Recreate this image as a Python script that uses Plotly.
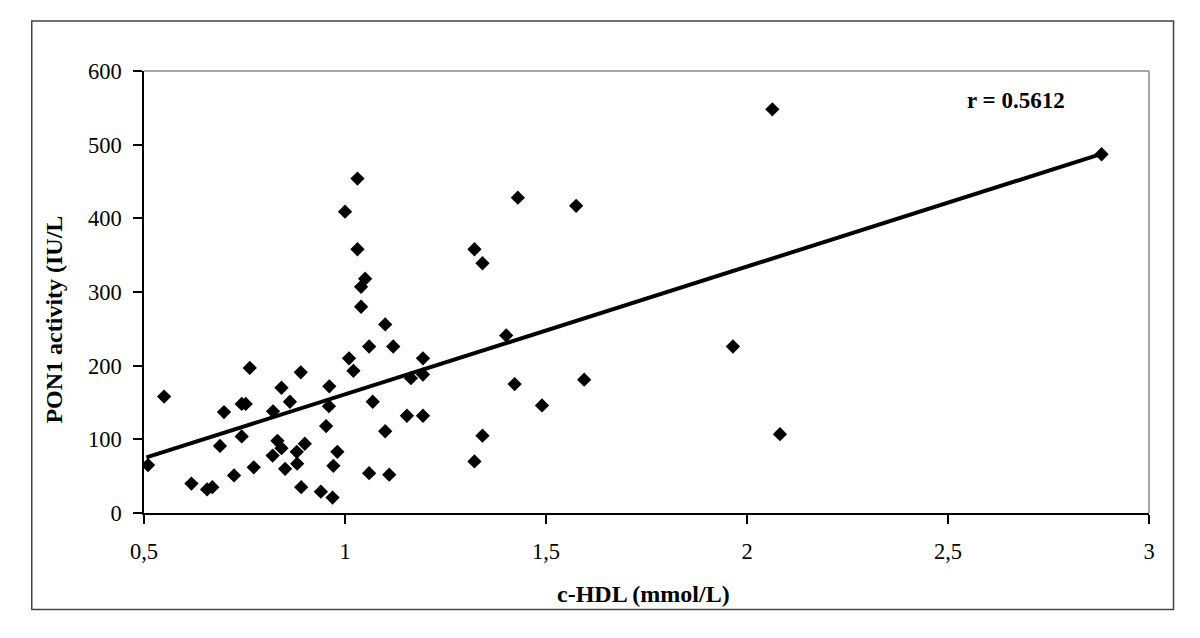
import plotly.graph_objects as go

# c-HDL (mmol/L) and PON1 activity (IU/L)
hdl = [0.51, 0.55, 0.618, 0.657, 0.670, 0.689, 0.699, 0.724, 0.743, 0.753,
       0.743, 0.763, 0.773, 0.821, 0.820, 0.832, 0.842, 0.842, 0.863, 0.851,
       0.890, 0.880, 0.900, 0.881, 0.891, 0.940, 0.969, 0.961, 0.960, 0.953,
       0.981, 0.971, 1.010, 1.021, 1.031, 1.000, 1.031, 1.050, 1.040, 1.040,
       1.100, 1.060, 1.120, 1.194, 1.164, 1.194, 1.069, 1.154, 1.194, 1.100,
       1.060, 1.110, 1.430, 1.575, 1.322, 1.342, 1.401, 1.422, 1.595, 1.490,
       1.342, 1.322, 2.063, 2.082, 1.965, 2.882]
pon1 = [65, 158, 40, 32, 35, 91, 137, 51, 148, 148,
        104, 197, 62, 138, 78, 98, 88, 170, 151, 60,
        191, 83, 94, 67, 35, 29, 21, 172, 145, 118,
        83, 64, 210, 193, 454, 409, 358, 318, 307, 280,
        256, 226, 226, 210, 183, 188, 151, 132, 132, 111,
        54, 52, 428, 417, 358, 339, 241, 175, 181, 146,
        105, 70, 548, 107, 226, 487]

# regression line end points
fit_x = [0.506, 2.882]
fit_y = [75.4, 487.5]

x_ticks = [0.5, 1, 1.5, 2, 2.5, 3]
x_ticktext = ["0,5", "1", "1,5", "2", "2,5", "3"]
y_ticks = [0, 100, 200, 300, 400, 500, 600]

SERIF = "Liberation Serif, Times New Roman, serif"

fig = go.Figure()
fig.add_trace(go.Scatter(x=hdl, y=pon1, mode="markers",
                         marker=dict(symbol="diamond", size=11, color="black",
                                     line=dict(width=0)),
                         showlegend=False))
fig.add_trace(go.Scatter(x=fit_x, y=fit_y, mode="lines",
                         line=dict(color="black", width=4),
                         showlegend=False))

fig.update_layout(
    width=1184, height=622,
    margin=dict(l=136.3, r=42.5, t=63, b=116.7),
    paper_bgcolor="white", plot_bgcolor="white",
    font=dict(family=SERIF, color="black", size=22),
    xaxis=dict(range=[0.5, 3], tickvals=x_ticks, ticktext=x_ticktext,
               showgrid=False, zeroline=False, showline=True,
               linecolor="black", linewidth=1.5, ticks="outside",
               ticklen=9, tickwidth=1.5, tickcolor="black",
               tickfont=dict(family=SERIF, size=22.5, color="black"),
               ticklabelstandoff=8),
    yaxis=dict(range=[0, 600], tickvals=y_ticks,
               showgrid=False, zeroline=False, showline=True,
               linecolor="black", linewidth=1.5, ticks="outside",
               ticklen=9, tickwidth=1.5, tickcolor="black",
               tickfont=dict(family=SERIF, size=22.5, color="black"),
               ticklabelstandoff=7),
)

# grey top and right border of plot area
fig.add_shape(type="line", xref="paper", yref="paper", x0=0, x1=1, y0=1, y1=1,
              line=dict(color="#8a8a8a", width=1.5))
fig.add_shape(type="line", xref="paper", yref="paper", x0=1, x1=1, y0=0, y1=1,
              line=dict(color="#8a8a8a", width=1.5))
# outer chart frame
fig.add_shape(type="rect", xref="paper", yref="paper",
              x0=-0.1117, x1=1.0244, y0=-0.2186, y1=1.113,
              line=dict(color="#444444", width=1.5), layer="below")

fig.add_annotation(text="<b>c-HDL (mmol/L)</b>", xref="paper", yref="paper",
                   x=0.4973, y=-0.1825, xanchor="center", yanchor="middle",
                   showarrow=False, font=dict(family=SERIF, size=24, color="black"))
fig.add_annotation(text="<b>PON1 activity (IU/L</b>", xref="paper", yref="paper",
                   x=-0.0898, y=0.437, xanchor="center", yanchor="middle",
                   textangle=-90, showarrow=False,
                   font=dict(family=SERIF, size=24, color="black"))
fig.add_annotation(text="<b>r = 0.5612</b>", x=2.668, y=560,
                   xanchor="center", yanchor="middle", showarrow=False,
                   font=dict(family=SERIF, size=23, color="black"))

fig.write_html("out.html")
